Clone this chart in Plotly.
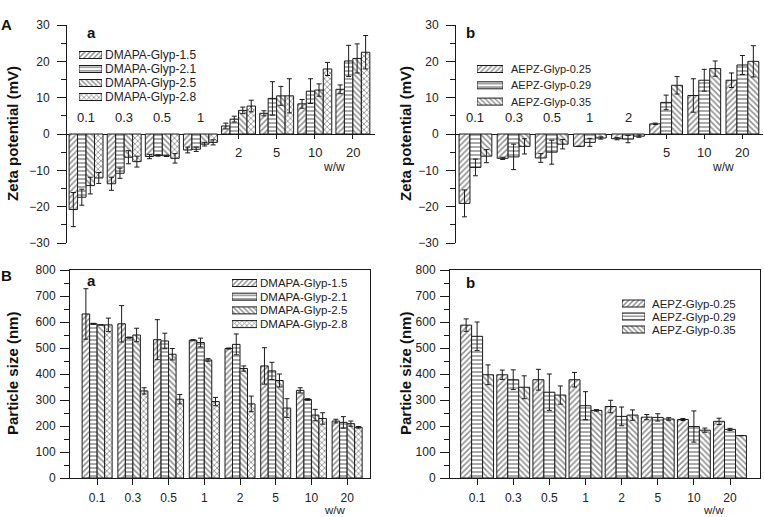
import plotly.graph_objects as go

# ---------------- data ----------------
ratios = ["0.1", "0.3", "0.5", "1", "2", "5", "10", "20"]

dmapa_names = ["DMAPA-Glyp-1.5", "DMAPA-Glyp-2.1", "DMAPA-Glyp-2.5", "DMAPA-Glyp-2.8"]
aepz_names = ["AEPZ-Glyp-0.25", "AEPZ-Glyp-0.29", "AEPZ-Glyp-0.35"]

# Zeta potential (mV), DMAPA series
zeta_dmapa_15 = [-20.8, -13.7, -6.2, -4.4, 2.2, 5.7, 8.3, 12.3]
zeta_dmapa_21 = [-17.4, -10.8, -5.9, -4.2, 4.1, 9.8, 11.8, 20.1]
zeta_dmapa_25 = [-14.2, -6.4, -6.0, -2.8, 6.5, 10.5, 12.1, 20.8]
zeta_dmapa_28 = [-12.1, -7.6, -6.7, -2.3, 7.7, 10.5, 17.9, 22.5]
zeta_dmapa_15_err = [4.7, 1.8, 0.6, 0.8, 0.8, 0.7, 1.2, 1.2]
zeta_dmapa_21_err = [2.2, 1.4, 0.2, 0.6, 0.8, 4.6, 3.4, 4.3]
zeta_dmapa_25_err = [2.3, 1.8, 0.2, 0.5, 0.9, 2.6, 1.7, 4.0]
zeta_dmapa_28_err = [1.5, 1.5, 1.3, 0.7, 1.6, 4.7, 1.8, 4.6]

# Zeta potential (mV), AEPZ series
zeta_aepz_025 = [-19.1, -6.7, -6.6, -3.4, -1.3, 2.8, 10.6, 14.8]
zeta_aepz_029 = [-9.2, -6.3, -5.0, -2.3, -1.4, 8.7, 14.8, 19.0]
zeta_aepz_035 = [-6.1, -3.4, -2.8, -1.1, -0.6, 13.4, 18.0, 20.0]
zeta_aepz_025_err = [3.7, 0.3, 1.2, 0.0, 0.3, 0.2, 4.6, 2.0]
zeta_aepz_029_err = [2.3, 3.5, 3.3, 1.1, 1.0, 2.0, 3.0, 2.6]
zeta_aepz_035_err = [1.8, 2.1, 1.3, 0.3, 0.3, 2.4, 2.1, 4.3]

# Particle size (nm), DMAPA series
size_dmapa_15 = [631, 593, 532, 530, 498, 431, 337, 219]
size_dmapa_21 = [593, 540, 527, 521, 514, 412, 302, 214]
size_dmapa_25 = [589, 550, 476, 454, 421, 375, 242, 209]
size_dmapa_28 = [589, 335, 303, 294, 285, 269, 229, 195]
size_dmapa_15_err = [97, 70, 77, 2, 2, 70, 10, 7]
size_dmapa_21_err = [2, 2, 30, 17, 40, 33, 3, 22]
size_dmapa_25_err = [0, 26, 22, 5, 10, 25, 22, 10]
size_dmapa_28_err = [26, 12, 18, 16, 30, 36, 22, 3]

# Particle size (nm), AEPZ series
size_aepz_025 = [588, 397, 378, 378, 275, 234, 225, 218]
size_aepz_029 = [545, 378, 330, 278, 237, 233, 198, 187]
size_aepz_035 = [397, 349, 319, 260, 242, 227, 184, 163]
size_aepz_025_err = [24, 18, 40, 28, 24, 10, 4, 12]
size_aepz_029_err = [55, 38, 70, 54, 36, 14, 60, 4]
size_aepz_035_err = [38, 44, 35, 3, 20, 5, 8, 0]

# ---------------- styling ----------------
W, H = 764, 517
FONT = "Liberation Sans, Arial, sans-serif"
patterns = ["/", "-", "\\", "x"]
INK = "#1a1a1a"


def px_x(p):
    return p / W


def px_y(p):
    return 1 - p / H


def bar_marker(shape, size=4, solidity=0.38):
    return dict(color="white", line=dict(color=INK, width=1),
                pattern=dict(shape=shape, fgcolor="#1e1e1e", bgcolor="white",
                             size=size, solidity=solidity))


fig = go.Figure()


def add_bars(names, values, errors, xa, ya, groupw):
    n = len(names)
    w = groupw / n
    for i in range(n):
        fig.add_trace(go.Bar(
            x=ratios, y=values[i], name=names[i], showlegend=False,
            width=w, offset=-groupw / 2 + i * w,
            marker=bar_marker(patterns[i]),
            error_y=dict(type="data", array=errors[i], visible=True,
                         color=INK, thickness=1, width=2.5),
            xaxis=xa, yaxis=ya,
        ))


add_bars(dmapa_names, [zeta_dmapa_15, zeta_dmapa_21, zeta_dmapa_25, zeta_dmapa_28],
         [zeta_dmapa_15_err, zeta_dmapa_21_err, zeta_dmapa_25_err, zeta_dmapa_28_err],
         "x", "y", 0.89)
add_bars(aepz_names, [zeta_aepz_025, zeta_aepz_029, zeta_aepz_035],
         [zeta_aepz_025_err, zeta_aepz_029_err, zeta_aepz_035_err],
         "x2", "y2", 0.86)
add_bars(dmapa_names, [size_dmapa_15, size_dmapa_21, size_dmapa_25, size_dmapa_28],
         [size_dmapa_15_err, size_dmapa_21_err, size_dmapa_25_err, size_dmapa_28_err],
         "x3", "y3", 0.84)
add_bars(aepz_names, [size_aepz_025, size_aepz_029, size_aepz_035],
         [size_aepz_025_err, size_aepz_029_err, size_aepz_035_err],
         "x4", "y4", 0.91)

tickfont = dict(family=FONT, size=12, color="#222")
top_dom = [px_y(243), px_y(25)]
bot_dom = [px_y(478), px_y(270)]
zero_pos = (top_dom[0] + top_dom[1]) / 2

zeta_y = dict(range=[-30, 30], dtick=10, ticks="outside", ticklen=9, tickcolor=INK,
              showline=True, linecolor=INK, linewidth=1, zeroline=False, showgrid=False,
              tickfont=tickfont, automargin=False, ticklabelstandoff=5,
              minor=dict(dtick=5, ticks="outside", ticklen=5, tickcolor=INK),
              domain=top_dom)
zeta_x = dict(type="category", showline=True, linecolor=INK, linewidth=1, ticks="outside",
              ticklen=4, tickcolor=INK, showticklabels=False, showgrid=False, automargin=False,
              anchor="free", position=zero_pos, layer="below traces")
size_y = dict(range=[0, 800], dtick=100, ticks="outside", ticklen=9, tickcolor=INK,
              showline=True, mirror=True, linecolor=INK, linewidth=1, zeroline=False,
              showgrid=False, tickfont=tickfont, automargin=False, ticklabelstandoff=2,
              minor=dict(dtick=50, ticks="outside", ticklen=5, tickcolor=INK),
              domain=bot_dom)
size_x = dict(type="category", showline=True, mirror=True, linecolor=INK, linewidth=1,
              ticks="outside", ticklen=6, tickcolor=INK, showgrid=False, tickfont=tickfont,
              automargin=False, ticklabelstandoff=3)

fig.update_layout(
    width=W, height=H, margin=dict(l=0, r=0, t=0, b=0, autoexpand=False),
    paper_bgcolor="white", plot_bgcolor="white",
    font=dict(family=FONT, color="#222"),
    barmode="group", showlegend=False, hovermode=False,
    xaxis=dict(zeta_x, domain=[px_x(67), px_x(375)], range=[-0.5, 7.58]),
    yaxis=dict(zeta_y, anchor="x"),
    xaxis2=dict(zeta_x, domain=[px_x(456), px_x(763)], range=[-0.51, 7.54]),
    yaxis2=dict(zeta_y, anchor="x2"),
    xaxis3=dict(size_x, domain=[px_x(70), px_x(370)], range=[-0.76, 7.64], anchor="y3"),
    yaxis3=dict(size_y, anchor="x3"),
    xaxis4=dict(size_x, domain=[px_x(450), px_x(760)], range=[-0.75, 7.83], anchor="y4"),
    yaxis4=dict(size_y, anchor="x4"),
)

annos = []

# ---------- hand-built legends (pattern swatches on small hidden axes) ----------
# (names, swatch left px, swatch width px, first row centre px, row spacing px,
#  swatch height px, text left px, font size)
legend_specs = [
    (dmapa_names, 79, 23, 55, 14.0, 7, 103, 12),
    (aepz_names, 477, 26, 69, 16.3, 7, 509, 11),
    (dmapa_names, 232, 25, 283, 13.7, 7, 257.5, 11.5),
    (aepz_names, 622, 23, 303.5, 13.0, 7, 650, 11.5),
]
for k, (names, sx, sw, cy0, sp, sh, tx, fs) in enumerate(legend_specs):
    n = len(names)
    ax_id = 5 + k
    top = cy0 - sp / 2
    bottom = cy0 + (n - 0.5) * sp
    fig.add_trace(go.Bar(
        x=[1] * n, y=list(range(n)), orientation="h", base=0, width=sh / sp,
        marker=bar_marker(patterns[:n], size=3.5, solidity=0.42),
        xaxis=f"x{ax_id}", yaxis=f"y{ax_id}", showlegend=False, hoverinfo="skip",
    ))
    fig.update_layout(**{
        f"xaxis{ax_id}": dict(domain=[px_x(sx), px_x(sx + sw)], range=[0, 1], visible=False,
                              anchor=f"y{ax_id}", fixedrange=True),
        f"yaxis{ax_id}": dict(domain=[px_y(bottom), px_y(top)], range=[n - 0.5, -0.5],
                              visible=False, anchor=f"x{ax_id}", fixedrange=True),
    })
    for i, nm in enumerate(names):
        annos.append(dict(x=px_x(tx), y=px_y(cy0 + i * sp), xref="paper", yref="paper",
                          text=nm, showarrow=False, xanchor="left", yanchor="middle",
                          font=dict(family=FONT, size=fs, color="#222")))

# category labels on zeta panels, placed at the zero line
for xa, ya, groups in [("x", "y", [zeta_dmapa_15, zeta_dmapa_21, zeta_dmapa_25, zeta_dmapa_28]),
                       ("x2", "y2", [zeta_aepz_025, zeta_aepz_029, zeta_aepz_035])]:
    for i, lab in enumerate(ratios):
        neg = sum(g[i] for g in groups) < 0
        annos.append(dict(x=i, y=0, xref=xa, yref=ya, text=lab, showarrow=False,
                          xanchor="center",
                          font=dict(family=FONT, size=13, color="#222"),
                          yanchor="bottom" if neg else "top",
                          yshift=7 if neg else -9))
    annos.append(dict(x=6.5, y=0, xref=xa, yref=ya, text="w/w", showarrow=False,
                      xanchor="center",
                      font=dict(family=FONT, size=12, color="#222"),
                      yanchor="top", yshift=-24))

annos.append(dict(x=6.67, y=px_y(510), xref="x3", yref="paper", text="w/w", showarrow=False,
                  xanchor="center", yanchor="middle",
                  font=dict(family=FONT, size=11.5, color="#222")))
annos.append(dict(x=6.56, y=px_y(510), xref="x4", yref="paper", text="w/w", showarrow=False,
                  xanchor="center", yanchor="middle",
                  font=dict(family=FONT, size=11.5, color="#222")))

bold = dict(family=FONT, size=15, color="#111")


def lab(x, y, text, angle=0):
    return dict(x=px_x(x), y=px_y(y), xref="paper", yref="paper", text=text,
                textangle=angle, showarrow=False, xanchor="center", yanchor="middle",
                font=bold)


annos += [
    lab(12, 134, "<b>Zeta potential (mV)</b>", -90),
    lab(405, 134, "<b>Zeta potential (mV)</b>", -90),
    lab(12, 374, "<b>Particle size (nm)</b>", -90),
    lab(405, 374, "<b>Particle size (nm)</b>", -90),
    lab(7, 25, "<b>A</b>"),
    lab(7, 275, "<b>B</b>"),
    lab(91, 32, "<b>a</b>"),
    lab(470, 32, "<b>b</b>"),
    lab(91, 280, "<b>a</b>"),
    lab(470, 282, "<b>b</b>"),
]
fig.update_layout(annotations=annos)

fig.write_html(
    "out.html",
    config={"displayModeBar": False, "staticPlot": True},
    post_script="document.body.style.margin='0';document.body.style.overflow='hidden';",
)
